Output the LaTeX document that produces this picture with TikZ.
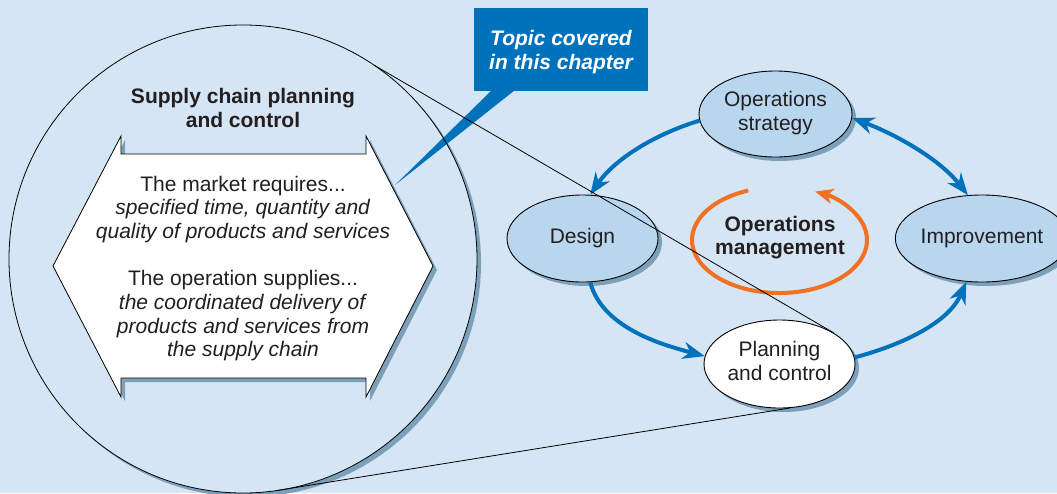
\documentclass[tikz,border=0pt]{standalone}
\usepackage{fontspec}
\setmainfont{Liberation Sans}
\usetikzlibrary{arrows.meta,shapes.geometric,shadows}
\definecolor{bg}{RGB}{213,229,244}
\definecolor{ellfill}{RGB}{185,214,239}
\definecolor{shadowc}{RGB}{124,160,185}
\definecolor{opblue}{RGB}{0,114,188}
\definecolor{oporange}{RGB}{241,112,34}
\definecolor{txt}{RGB}{35,31,32}
\begin{document}
\begin{tikzpicture}[x=1pt,y=-1pt,
  shad/.style={drop shadow={shadow xshift=4pt,shadow yshift=-4pt,fill=shadowc,opacity=1}},
  oval/.style={ellipse, draw=black, line width=0.9pt, fill=ellfill, inner sep=0pt, shad,
    font=\fontsize{21}{24}\selectfont, text=txt, align=center},
  flowtip/.style={},
  flow/.style={draw=opblue, line width=4pt, -{Stealth[length=22pt,width=17pt,inset=7pt]}},
  thinline/.style={draw=black, line width=0.8pt},
  body/.style={font=\fontsize{21}{23.7}\selectfont, text=txt, align=center}]

\useasboundingbox (0,0) rectangle (1057,493);
\fill[bg] (0,0) rectangle (1057,493);

% big magnifying circle (fill + shadow)
\node[circle, minimum size=468pt, inner sep=0pt, outer sep=0pt, fill=bg, shad] (big) at (243,259) {};

% double-headed hexagon arrow
\filldraw[fill=white, thinline, shad, line join=miter]
  (53,266) -- (121,136) -- (121,154) -- (366,154) -- (366,136) -- (433,266)
  -- (366,397) -- (366,378) -- (121,378) -- (121,397) -- cycle;

\node[text=txt, align=center, font=\bfseries\fontsize{21}{24}\selectfont] (title) at (243,110.2)
  {\strut Supply chain planning\\and control\strut};

\node[body] (hextext) at (243,269.3)
  {\strut The market requires...\\
   \textit{specified time, quantity and}\\
   \textit{quality of products and services}\\[23.7pt]
   The operation supplies...\\
   \textit{the coordinated delivery of}\\
   \textit{products and services from}\\
   \textit{the supply chain}\strut};

% callout
\node[fill=opblue, minimum width=174pt, minimum height=83pt, inner sep=0pt] (callout) at (561,49.5) {};
\coordinate (ptip) at (395,185);
\fill[opblue] (callout.south west) ++(18,-1) -- ++(23,0) -- (ptip) -- cycle;
\node[text=white, align=center, font=\bfseries\itshape\fontsize{21}{24}\selectfont] (ctext) at (561,52.2)
  {\strut Topic covered\\in this chapter\strut};

% big circle outline
\draw[thinline] (big.center) circle[radius=234];

% ellipses
\node[oval, minimum width=153pt, minimum height=86pt] (strat) at (775.5,114) {\strut Operations\\strategy\strut};
\node[oval, minimum width=151pt, minimum height=87pt] (design) at (582.5,238.5) {\strut Design};
\node[oval, minimum width=150pt, minimum height=87pt] (improve) at (982,238.5) {\strut Improvement};
\node[oval, fill=white, minimum width=151pt, minimum height=88pt] (plan) at (779.5,364) {\strut Planning\\and control\strut};

% centre
\node[text=txt, align=center, font=\bfseries\fontsize{21}{23}\selectfont] (om) at (780,238.4)
  {\strut Operations\\management\strut};
\coordinate (oc) at (779.5,240);
\draw[oporange, line width=4pt, -{Stealth[length=18pt,width=15pt,inset=5pt]}]
  (oc) ++(249:87.5 and 53) arc[start angle=249, end angle=-66, x radius=87.5, y radius=53];

% blue flows
\draw[flow] (strat.185) .. controls +(-40,12) and +(26,-38) .. (design.80);
\draw[flow, {Stealth[length=22pt,width=17pt,inset=7pt]}-{Stealth[length=22pt,width=17pt,inset=7pt]}]
  (strat.-3) .. controls +(40,15) and +(-30,-38) .. (improve.108);
\draw[flow] (design.-80) .. controls +(12,45) and +(-45,-12) .. (plan.174);
\draw[flow] (plan.5) .. controls +(45,-12) and +(-18,42) .. (improve.250);

% magnifier lines
\draw[thinline] (big.56) -- (plan.30);
\draw[thinline] (big.-82) -- (plan.-77);
\end{tikzpicture}
\end{document}
